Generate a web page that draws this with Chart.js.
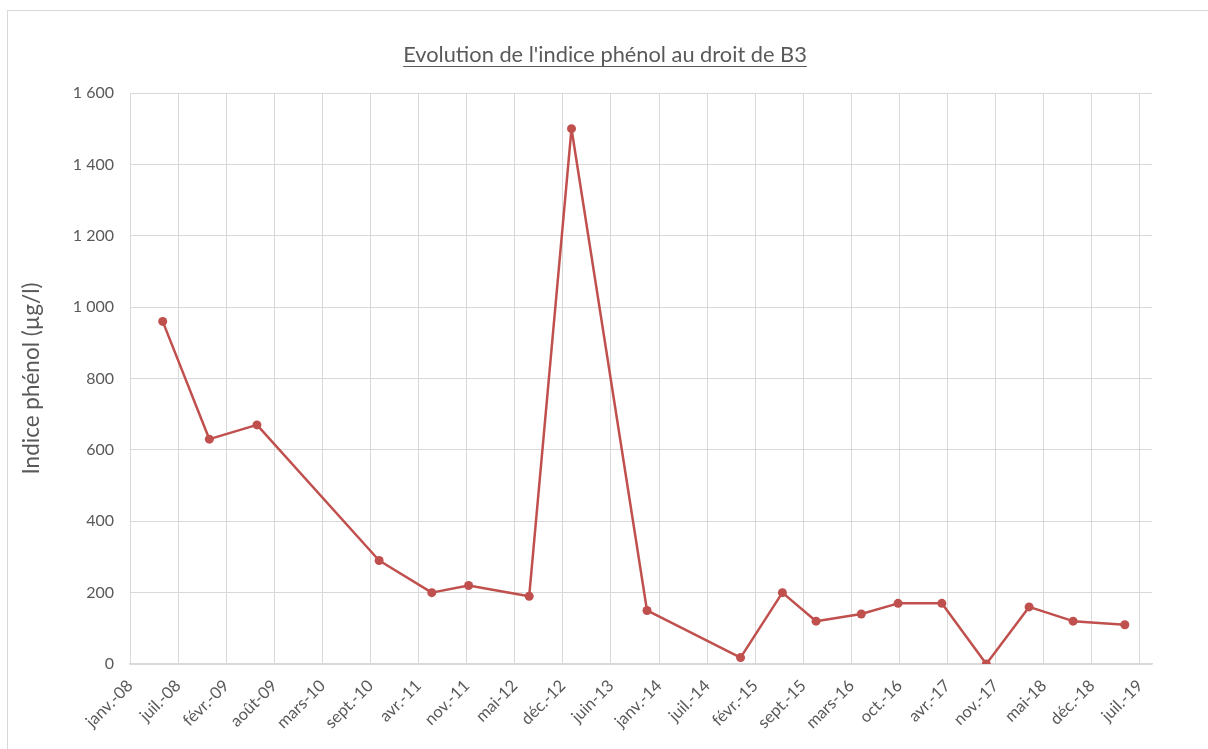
<!DOCTYPE html>
<html lang="fr">
<head>
<meta charset="utf-8">
<title>Indice phénol B3</title>
<script src="https://cdn.jsdelivr.net/npm/chart.js@4.4.1/dist/chart.umd.min.js"></script>
<style>
  html, body { margin: 0; padding: 0; background: #fff; overflow: hidden; }
  #frame {
    position: absolute; left: 7px; top: 10px; width: 1201px; height: 739px;
    border-left: 1px solid #d9d9d9; border-top: 1px solid #d9d9d9; box-sizing: border-box;
  }
  #wrap { position: absolute; left: 0; top: 0; width: 1208px; height: 749px; }
</style>
</head>
<body>
<div id="frame"></div>
<div id="wrap"><canvas id="chart" width="1208" height="749"></canvas></div>
<script>
// Sampling dates at piezometer B3 and measured phenol index (µg/l)
const sampleDates = [
  '2008-05-16', '2008-11-26', '2009-06-12', '2010-11-02', '2011-06-09',
  '2011-11-09', '2012-07-18', '2013-01-10', '2013-11-20', '2014-12-14',
  '2015-06-06', '2015-10-24', '2016-04-29', '2016-09-29', '2017-03-30',
  '2017-10-01', '2018-03-28', '2018-09-27', '2019-04-30'
];
const phenolIndex = [
  960, 630, 670, 290, 200,
  220, 190, 1500, 150, 18,
  200, 120, 140, 170, 170,
  0, 160, 120, 110
];

// Date axis: origin 1 Jan 2008, one labelled gridline every 200 days
const axisOrigin = '2008-01-01';
const tickStepDays = 200;
const axisEndDays = 4250;
const tickLabels = [
  'janv.-08', 'juil.-08', 'févr.-09', 'août-09', 'mars-10', 'sept.-10',
  'avr.-11', 'nov.-11', 'mai-12', 'déc.-12', 'juin-13', 'janv.-14',
  'juil.-14', 'févr.-15', 'sept.-15', 'mars-16', 'oct.-16', 'avr.-17',
  'nov.-17', 'mai-18', 'déc.-18', 'juil.-19'
];

const chartTitle = "Evolution de l'indice phénol au droit de B3";
const yAxisTitle = 'Indice phénol (µg/l)';

function dayNumber(iso) {
  const [y, m, d] = iso.split('-').map(Number);
  const [oy, om, od] = axisOrigin.split('-').map(Number);
  return Math.round((Date.UTC(y, m - 1, d) - Date.UTC(oy, om - 1, od)) / 86400000);
}

const points = sampleDates.map((d, i) => ({ x: dayNumber(d), y: phenolIndex[i] }));

const textColor = '#595959';
const gridColor = '#d9d9d9';
const lineColor = '#c0504d';
const fontFamily = 'Lato, "Open Sans", "Liberation Sans", sans-serif';

// Underlined title centred over the whole chart frame
const underlinedTitle = {
  id: 'underlinedTitle',
  afterDraw(chart, args, opts) {
    const ctx = chart.ctx;
    ctx.save();
    ctx.font = `${opts.size}px ${fontFamily}`;
    ctx.fillStyle = textColor;
    ctx.textAlign = 'center';
    ctx.textBaseline = 'alphabetic';
    ctx.fillText(opts.text, opts.centerX, opts.baseline);
    const w = ctx.measureText(opts.text).width;
    const uy = opts.baseline + 4.5;
    ctx.strokeStyle = textColor;
    ctx.lineWidth = 1;
    ctx.beginPath();
    ctx.moveTo(opts.centerX - w / 2, uy);
    ctx.lineTo(opts.centerX + w / 2, uy);
    ctx.stroke();
    ctx.restore();
  }
};

new Chart(document.getElementById('chart'), {
  type: 'line',
  data: {
    datasets: [{
      data: points,
      borderColor: lineColor,
      backgroundColor: lineColor,
      borderWidth: 2.5,
      borderJoinStyle: 'round',
      pointRadius: 4.5,
      pointBackgroundColor: lineColor,
      pointBorderColor: lineColor,
      pointBorderWidth: 0,
      tension: 0,
      fill: false
    }]
  },
  options: {
    responsive: false,
    devicePixelRatio: 1,
    animation: false,
    events: [],
    layout: { padding: { left: 0, right: 56, top: 93, bottom: 0 } },
    plugins: {
      legend: { display: false },
      tooltip: { enabled: false },
      title: { display: false },
      underlinedTitle: { text: chartTitle, size: 21.8, centerX: 605, baseline: 62 }
    },
    scales: {
      x: {
        type: 'linear',
        min: 0,
        max: axisEndDays,
        afterBuildTicks(scale) {
          scale.ticks = tickLabels.map((_, i) => ({ value: i * tickStepDays }));
        },
        afterFit(scale) { scale.height = 85; },
        ticks: {
          autoSkip: false,
          minRotation: 45,
          maxRotation: 45,
          padding: 12,
          color: textColor,
          font: { family: fontFamily, size: 16.5 },
          callback: (value, index) => tickLabels[index]
        },
        grid: { color: gridColor, lineWidth: 1, drawTicks: false },
        border: { color: gridColor, width: 1.5 }
      },
      y: {
        type: 'linear',
        min: 0,
        max: 1600,
        afterFit(scale) { scale.width = 130; },
        ticks: {
          stepSize: 200,
          padding: 16,
          color: textColor,
          font: { family: fontFamily, size: 16 },
          callback: v => v.toLocaleString('fr-FR').replace(/\s/g, ' ')
        },
        title: {
          display: true,
          text: yAxisTitle,
          color: textColor,
          font: { family: fontFamily, size: 22.5 },
          padding: { top: 18, bottom: 0 }
        },
        grid: { color: gridColor, lineWidth: 1, drawTicks: false },
        border: { display: false }
      }
    }
  },
  plugins: [underlinedTitle]
});
</script>
</body>
</html>
